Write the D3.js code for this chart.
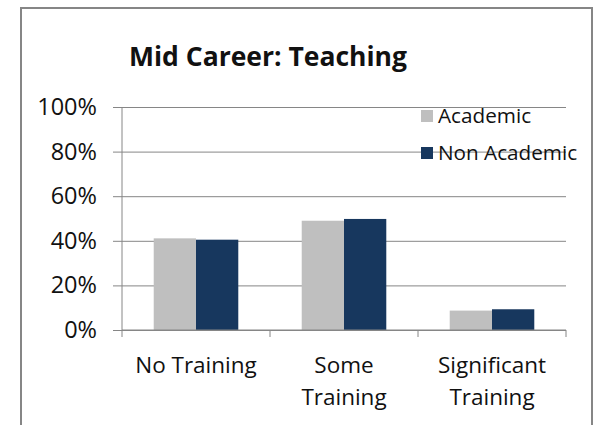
<!DOCTYPE html>
<html>
<head>
<meta charset="utf-8">
<script src="https://cdn.jsdelivr.net/npm/d3@7"></script>
<style>
  body { margin: 0; background: #fff; }
  text { font-family: "Open Sans", sans-serif; fill: #111; }
</style>
</head>
<body>
<div id="graph"></div>
<script>
//Chart data
var categories = ["No Training", "Some Training", "Significant Training"];
var categoryLines = [["No Training"], ["Some", "Training"], ["Significant", "Training"]];
var seriesNames = ["Academic", "Non Academic"];
var academic = [0.411, 0.490, 0.087];
var nonAcademic = [0.405, 0.498, 0.093];
var yTicks = [0, 0.2, 0.4, 0.6, 0.8, 1.0];
var colors = ["#bfbfbf", "#17375e"];

//Sizes
var width = 597, height = 425;
var plot = {left: 122, right: 566, top: 107, bottom: 330};

var svg = d3.select("#graph").append("svg")
  .attr("width", width).attr("height", height);

//Outer chart border
svg.append("rect")
  .attr("x", 21).attr("y", 8)
  .attr("width", 571).attr("height", 430)
  .attr("fill", "white")
  .attr("stroke", "#868686")
  .attr("stroke-width", 2);

//Title
svg.append("text")
  .attr("x", 268).attr("y", 66)
  .attr("text-anchor", "middle")
  .attr("font-size", 26.5)
  .attr("font-weight", "bold")
  .text("Mid Career: Teaching");

//Scales
var x0 = d3.scaleBand().domain(categories).range([plot.left, plot.right]).paddingInner(0).paddingOuter(0);
var x1 = d3.scaleBand().domain(seriesNames).range([0, x0.bandwidth()]).paddingInner(0).paddingOuter(0.75);
var y = d3.scaleLinear().domain([0, 1]).range([plot.bottom, plot.top]);

//Gridlines + y axis
var yAxis = svg.append("g")
  .attr("transform", "translate(" + plot.left + ",0)")
  .call(d3.axisLeft(y).tickValues(yTicks).tickFormat(d3.format(".0%"))
    .tickSize(-(plot.right - plot.left)).tickPadding(25));
yAxis.select(".domain").remove();
yAxis.selectAll(".tick line").attr("stroke", "#868686").attr("x1", -9);
yAxis.selectAll(".tick text").attr("font-size", 23.5).attr("fill", "#111");

//Vertical axis line
svg.append("line")
  .attr("x1", plot.left).attr("x2", plot.left)
  .attr("y1", plot.top).attr("y2", plot.bottom)
  .attr("stroke", "#868686");

//Bars
var data = categories.map(function(c, i) {
  return {cat: c, values: [academic[i], nonAcademic[i]]};
});
var groups = svg.selectAll(".group")
  .data(data)
  .enter().append("g")
  .attr("class", "group")
  .attr("transform", function(d) { return "translate(" + x0(d.cat) + ",0)"; });
groups.selectAll("rect")
  .data(function(d) { return d.values.map(function(v, j) { return {s: seriesNames[j], v: v, j: j}; }); })
  .enter().append("rect")
  .attr("x", function(d) { return x1(d.s); })
  .attr("y", function(d) { return y(d.v); })
  .attr("width", x1.bandwidth())
  .attr("height", function(d) { return y(0) - y(d.v); })
  .attr("fill", function(d) { return colors[d.j]; });

//Category axis
var xAxis = svg.append("g")
  .attr("transform", "translate(0," + plot.bottom + ")");
xAxis.append("line")
  .attr("x1", plot.left).attr("x2", plot.right)
  .attr("stroke", "#868686");
xAxis.selectAll(".cattick")
  .data(categories.concat(["end"]))
  .enter().append("line")
  .attr("class", "cattick")
  .attr("x1", function(d, i) { return i < categories.length ? x0(d) : plot.right; })
  .attr("x2", function(d, i) { return i < categories.length ? x0(d) : plot.right; })
  .attr("y1", 0).attr("y2", 7)
  .attr("stroke", "#868686");
var catLabels = xAxis.selectAll(".catlabel")
  .data(categories)
  .enter().append("text")
  .attr("class", "catlabel")
  .attr("text-anchor", "middle")
  .attr("font-size", 22.5)
  .attr("transform", function(d) { return "translate(" + (x0(d) + x0.bandwidth() / 2) + ",43)"; });
catLabels.selectAll("tspan")
  .data(function(d, i) { return categoryLines[i]; })
  .enter().append("tspan")
  .attr("x", 0)
  .attr("dy", function(d, i) { return i === 0 ? 0 : 32; })
  .text(function(d) { return d; });

//Legend
var legend = svg.selectAll(".legend")
  .data(seriesNames)
  .enter().append("g")
  .attr("class", "legend")
  .attr("transform", function(d, i) { return "translate(421," + (110 + i * 37) + ")"; });
legend.append("rect")
  .attr("width", 12).attr("height", 12)
  .attr("fill", function(d, i) { return colors[i]; });
legend.append("text")
  .attr("x", 17).attr("y", 13)
  .attr("font-size", 20.7)
  .text(function(d) { return d; });
</script>
</body>
</html>
